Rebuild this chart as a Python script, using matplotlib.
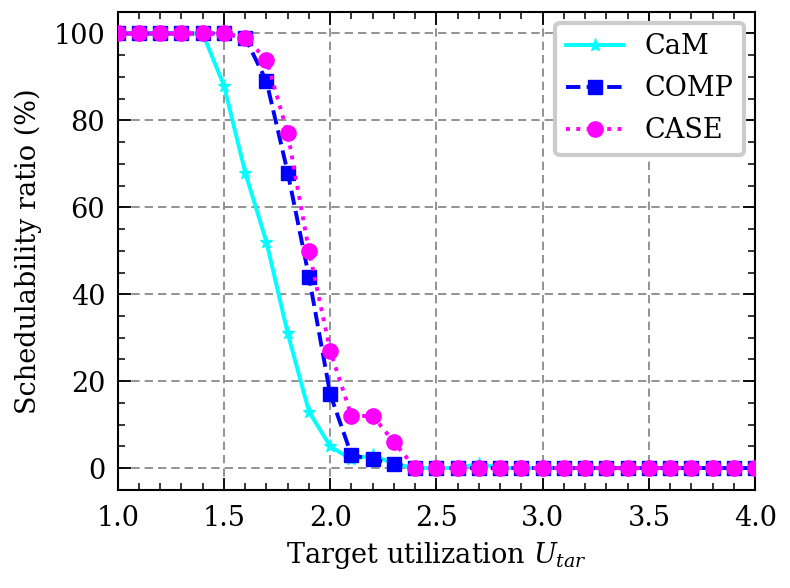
import matplotlib
matplotlib.use("Agg")
import matplotlib.pyplot as plt
import numpy as np

x = [round(1.0 + 0.1 * i, 1) for i in range(31)]
cam = [100, 100, 100, 100, 100, 88, 68, 52, 31, 13, 5, 2, 3, 1, 0, 0, 0, 1] + [0] * 13
comp = [100, 100, 100, 100, 100, 100, 99, 89, 68, 44, 17, 3, 2, 1] + [0] * 17
case = [100, 100, 100, 100, 100, 100, 99, 94, 77, 50, 27, 12, 12, 6] + [0] * 17

plt.rcParams['font.family'] = ['DejaVu Serif']
plt.rcParams['mathtext.fontset'] = 'dejavuserif'
plt.rcParams['font.size'] = 19.5

fig, ax = plt.subplots(figsize=(7.9, 5.88), dpi=100)
ax.plot(x, cam, color='cyan', marker='*', ms=9.5, lw=2.8, ls='-', label='CaM', zorder=3)
ax.plot(x, comp, color='blue', marker='s', ms=10, lw=2.8, ls='--', label='COMP', zorder=4)
ax.plot(x, case, color='magenta', marker='o', ms=11, lw=2.8, ls=':', label='CASE', zorder=5)

ax.set_xlim(1.0, 4.0)
ax.set_ylim(-5, 105)
ax.set_xticks(np.arange(1.0, 4.01, 0.5))
ax.set_yticks([0, 20, 40, 60, 80, 100])
ax.xaxis.set_minor_locator(matplotlib.ticker.MultipleLocator(0.1))
ax.yaxis.set_minor_locator(matplotlib.ticker.MultipleLocator(5))
ax.tick_params(which='both', direction='in', top=True, right=True)
ax.tick_params(which='major', length=9, width=1.3)
ax.tick_params(axis='x', which='major', pad=11)
ax.tick_params(axis='y', which='major', pad=9)
ax.tick_params(which='minor', length=5, width=1.1)
for s in ax.spines.values():
    s.set_linewidth(1.5)
ax.grid(True, color='gray', lw=1.2, dashes=(5, 3))
ax.set_xlabel('Target utilization $U_{tar}$', labelpad=6)
ax.set_ylabel('Schedulability ratio (%)', labelpad=8)
leg = ax.legend(loc='upper right', fancybox=True, framealpha=1, edgecolor='#cccccc',
                handlelength=2.1, borderaxespad=0.4, labelspacing=0.55)
leg.get_frame().set_linewidth(3)

fig.subplots_adjust(left=0.149, right=0.956, top=0.98, bottom=0.167)
fig.savefig('out.png', dpi=100)
